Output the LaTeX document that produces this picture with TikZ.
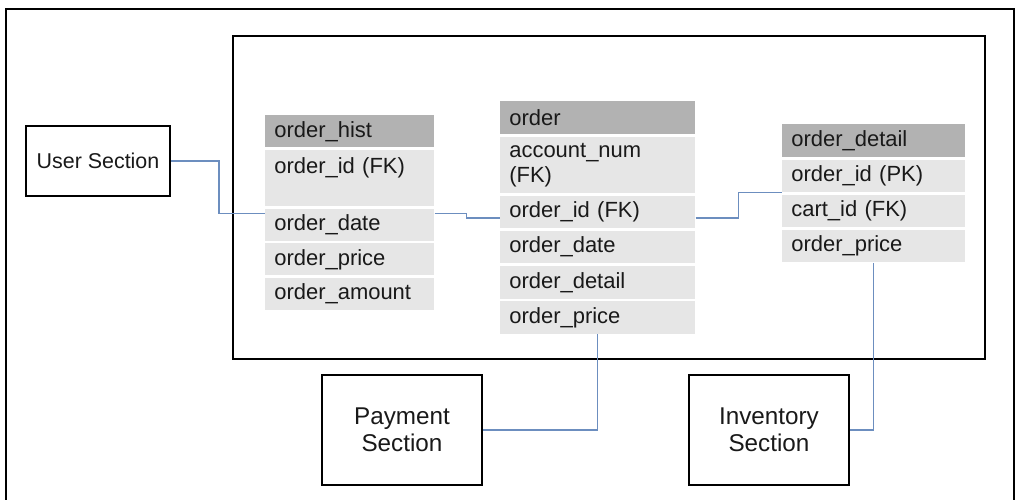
\documentclass[tikz,border=0pt]{standalone}
\usepackage{fontspec}
\setmainfont{Liberation Sans}
\usetikzlibrary{positioning}
\definecolor{headgray}{HTML}{B2B2B2}
\definecolor{rowgray}{HTML}{E6E6E6}
\definecolor{linkblue}{HTML}{6C8EBF}

\begin{document}
\begin{tikzpicture}[x=0.02cm, y=-0.02cm, node distance=0.04cm,
  every node/.style={font=\fontsize{12.5}{14.2}\selectfont, text=black!90},
  field/.style={fill=rowgray, minimum height=0.65cm, inner xsep=0.18cm, inner ysep=0.06cm, align=left},
  head/.style={field, fill=headgray, anchor=north west},
  histtbl/.style={text width=3.02cm, minimum height=0.64cm},
  ordertbl/.style={text width=3.54cm},
  detailtbl/.style={text width=3.30cm},
  section/.style={draw, line width=1.1pt, align=center, font=\fontsize{13.8}{15.2}\selectfont},
  link/.style={draw=linkblue, line width=0.7pt}]
  \useasboundingbox (0,0) rectangle (1017,500);

  % 外枠と内枠
  \draw[line width=1.1pt] (6,500) |- (1014,9) -- (1014,500);
  \draw[line width=1.1pt] (233,36) rectangle (985,359);

  % order_hist
  \node[head, histtbl] (hhead) at (265,115) {order\_hist};
  \node[field, histtbl, below=of hhead, minimum height=1.12cm] (hid) {order\_id (FK)\\\mbox{}};
  \node[field, histtbl, below=of hid] (hdate) {order\_date};
  \node[field, histtbl, below=of hdate] (hprice) {order\_price};
  \node[field, histtbl, below=of hprice] (hamount) {order\_amount};

  % order
  \node[head, ordertbl] (ohead) at (500,101) {order};
  \node[field, ordertbl, below=of ohead, minimum height=1.13cm] (oacct) {account\_num\\(FK)};
  \node[field, ordertbl, below=of oacct] (oid) {order\_id (FK)};
  \node[field, ordertbl, below=of oid] (odate) {order\_date};
  \node[field, ordertbl, below=of odate] (odetail) {order\_detail};
  \node[field, ordertbl, below=of odetail] (oprice) {order\_price};

  % order_detail
  \node[head, detailtbl] (dhead) at (782,124) {order\_detail};
  \node[field, detailtbl, below=of dhead] (did) {order\_id (PK)};
  \node[field, detailtbl, below=of did] (dcart) {cart\_id (FK)};
  \node[field, detailtbl, below=of dcart] (dprice) {order\_price};

  % 各セクション
  \node[section, minimum width=2.88cm, minimum height=1.4cm, font=\fontsize{12.2}{14.2}\selectfont] (user) at (98,161) {User Section};
  \node[section, minimum width=3.2cm, minimum height=2.2cm] (pay) at (402,430) {Payment\\Section};
  \node[section, minimum width=3.2cm, minimum height=2.2cm] (inv) at (769,430) {Inventory\\Section};

  % 接続線
  \draw[link] (user.east) -- ++(48,0) |- ([yshift=-0.1cm]hdate.north west);
  \draw[link] ([yshift=-0.1cm]hdate.north east) -- ++(32,0) |- ([yshift=-0.12cm]oid.west);
  \draw[link] ([yshift=-0.12cm]oid.east) -- ++(43,0) |- (did.south west);
  \draw[link] (oprice.south) |- (pay.east);
  \draw[link] (dprice.south) |- (inv.east);
\end{tikzpicture}
\end{document}
